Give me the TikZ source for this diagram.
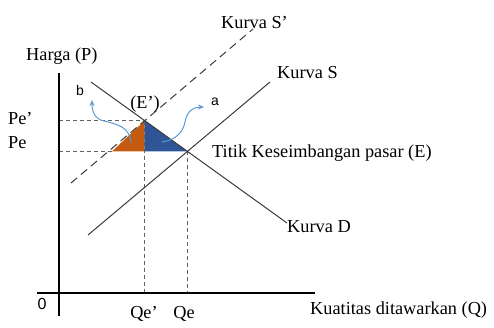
\documentclass[tikz,border=0pt]{standalone}
\usepackage{fontspec}
\setmainfont{Liberation Serif}
\newfontfamily\sansf{Liberation Sans}
\usetikzlibrary{arrows.meta}
\definecolor{orng}{HTML}{C55A11}
\definecolor{blu}{HTML}{2F5597}
\definecolor{lblu}{HTML}{5B9BD5}
\definecolor{lne}{HTML}{3A3A3A}
\begin{document}
\begin{tikzpicture}[x=1pt,y=-1pt,
  lbl/.style={font=\fontsize{18.3}{21}\selectfont,inner sep=0pt,anchor=base west},
  slbl/.style={font=\sansf\fontsize{14}{16}\selectfont,inner sep=0pt},
  axisline/.style={line width=2pt,black},
  curve/.style={line width=1pt,lne},
  guide/.style={line width=0.9pt,lne!80,dash pattern=on 4pt off 3pt},
  shifted/.style={line width=1pt,lne,dash pattern=on 8pt off 5pt},
  move/.style={line width=1pt,lblu,-{Stealth[length=6pt,width=5pt]}}]
\useasboundingbox (0,0) rectangle (494,327);
% curves
\coordinate (D1) at (91,82);
\coordinate (D2) at (287,223);
\coordinate (S1) at (88,235);
\coordinate (S2) at (270,82);
\coordinate (Sp1) at (71,183);
\coordinate (Sp2) at (253,29);
\coordinate (E) at (intersection of D1--D2 and S1--S2);
\coordinate (Ep) at (intersection of D1--D2 and Sp1--Sp2);
\coordinate (Yt) at (59,73);
\coordinate (Yb) at (59,316);
\coordinate (Xl) at (37,293);
\coordinate (Xr) at (315,293);
\coordinate (Ebase) at (Ep |- E);
\coordinate (Oleft) at (112,0 |- E);
% triangles
\fill[orng] (Ep) -- (Ebase) -- (Oleft) -- cycle;
\fill[blu] (Ep) -- (Ebase) -- (E) -- cycle;
% guides
\draw[guide] (Yt |- Ep) -- (Ep);
\draw[guide] (Yt |- E) -- (Oleft);
\draw[guide] (Ep) -- (Ep |- Xl);
\draw[guide] (E) -- (E |- Xl);
% lines
\draw[curve] (D1) -- (D2);
\draw[curve] (S1) -- (S2);
\draw[shifted] (Sp1) -- (Sp2);
% axes
\draw[axisline] (Yt) -- (Yb);
\draw[axisline] (Xl) -- (Xr);
% arrows
\coordinate (bs) at (131,143);
\coordinate (be) at (92,100);
\coordinate (as) at (162,142);
\coordinate (ae) at (204,107);
\draw[move] (bs) .. controls (130,127) and (117,124) .. (104,121) .. controls (95,119) and (92,112) .. (be);
\draw[move] (as) .. controls (176,140) and (183,132) .. (185,122) .. controls (187,110) and (195,107) .. (ae);
% labels
\node[lbl] (harga) at (26,60) {Harga (P)};
\node[lbl] (ks2) at (221,28) {Kurva S’};
\node[lbl] (ks) at (277,78) {Kurva S};
\node[lbl] (tk) at (212,157) {Titik Keseimbangan pasar (E)};
\node[lbl] (kd) at (287,232) {Kurva D};
\node[lbl] (kq) at (310,314) {Kuatitas ditawarkan (Q)};
\node[lbl] (pep) at (8,124) {Pe’};
\node[lbl] (pe) at (8,148) {Pe};
\node[lbl,anchor=base] (qep) at (144,318) {Qe’};
\node[lbl,anchor=base] (qe) at (184,318) {Qe};
\node[lbl,anchor=base] (epl) at (145,108) {(E’)};
\node[slbl,font=\sansf\fontsize{16}{18}\selectfont] (zero) at (42,304) {0};
\node[slbl] (bl) at (80,90) {b};
\node[slbl] (al) at (215,102) {a};
\end{tikzpicture}
\end{document}
